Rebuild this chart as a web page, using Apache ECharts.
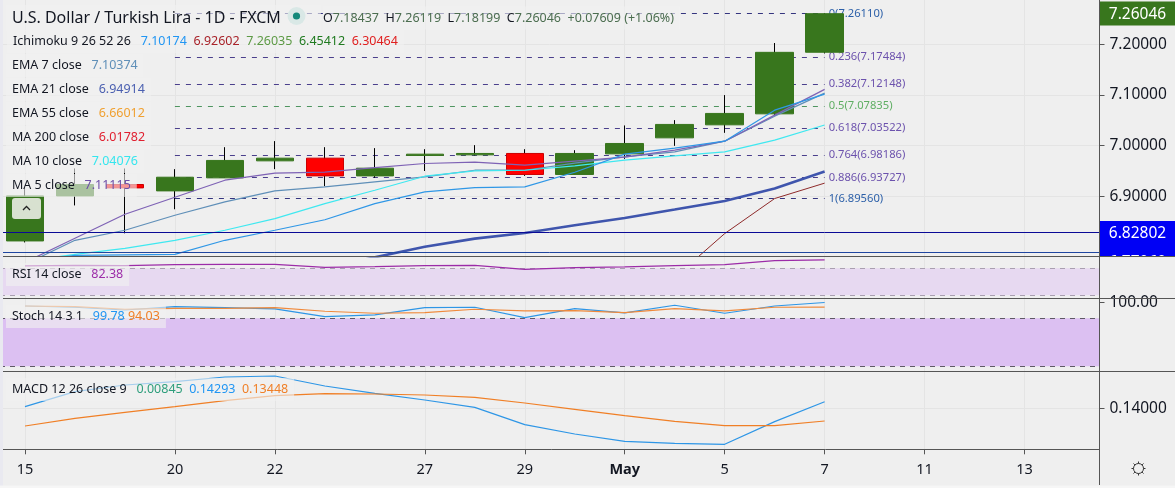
<!DOCTYPE html>
<html><head><meta charset="utf-8">
<style>html,body{margin:0;padding:0;background:#efefef}#c{width:1175px;height:488px}</style>
<script src="https://cdn.jsdelivr.net/npm/echarts@6/dist/echarts.min.js"></script>
</head><body><div id="c"></div>
<script>
const days=['15','16','17','20','21','22','23','24','27','28','29','30','May','4','5','6','7','8','11','12','13','14'];
const shownDays=['15','20','22','27','29','May','5','7','11','13'];
const open_=[6.8119,6.9008,6.9233,6.9107,6.9364,6.9700,6.9753,6.9403,6.9806,6.9818,6.9846,6.9431,6.9838,7.0154,7.0411,7.0628,7.18437];
const close_=[6.9008,6.9233,6.9166,6.9377,6.9708,6.9753,6.9403,6.9555,6.9832,6.9846,6.9431,6.9846,7.0043,7.0419,7.0636,7.1842,7.26046];
const low_=[6.8090,6.8820,6.8270,6.8745,6.9364,6.9536,6.9200,6.9364,6.9500,6.9806,6.9403,6.9431,6.9739,6.9996,7.0253,7.0603,7.18199];
const high_=[6.9186,6.9550,6.9550,6.9536,6.9970,7.0090,6.9970,6.9951,6.9930,7.0010,6.9930,6.9910,7.0399,7.0504,7.0998,7.2026,7.26119];
const ma5=[6.7697,6.8171,6.8646,6.8982,6.9318,6.9456,6.9476,6.9565,6.9648,6.9673,6.9614,6.9693,6.9772,6.9911,7.0088,7.0602,7.11115];
const ema7=[6.7658,6.8132,6.8330,6.8626,6.8889,6.9106,6.9185,6.9284,6.9383,6.9515,6.9515,6.9654,6.9778,6.9877,7.0088,7.0582,7.10374];
const ichiConv=[6.7697,6.7835,6.7845,6.7855,6.8132,6.8330,6.8537,6.8857,6.9086,6.9173,6.9185,6.9476,6.9832,6.9950,7.0088,7.0701,7.10174];
const ma10=[6.7717,6.7855,6.7974,6.8132,6.8330,6.8561,6.8857,6.9120,6.9397,6.9502,6.9515,6.9600,6.9713,6.9798,6.9877,7.0108,7.04076];
const ema21=[null,null,null,null,null,null,6.7579,6.7796,6.8003,6.8165,6.8276,6.8428,6.8573,6.8739,6.8909,6.9154,6.94914];
const ichiBase=[null,null,null,null,null,null,null,null,null,null,null,null,null,6.7400,6.8264,6.8956,6.92602];
const fibLevels=[['0',7.2611,'#2b5fa8','#35357f'],['0.236',7.17484,'#6c52ad','#4a3f8c'],['0.382',7.12148,'#6c52ad','#4a3f8c'],['0.5',7.07835,'#5fae63','#4f9560'],['0.618',7.03522,'#6c52ad','#4a3f8c'],['0.764',6.98186,'#6c52ad','#4a3f8c'],['0.886',6.93727,'#6c52ad','#4a3f8c'],['1',6.8956,'#2b5fa8','#35357f']];
const rsi=[73.5,74.4,74.0,75.4,75.7,75.9,71.5,72.5,74.0,74.4,68.5,71.0,72.0,74.0,75.4,81.4,82.38];
const stochK=[95.4,93.8,90.4,94.6,93.3,91.7,82.1,84.2,93.3,93.8,80.8,92.1,86.7,96.3,86.3,95.4,99.78];
const stochD=[95.4,94.6,91.3,92.5,92.5,93.3,88.8,86.3,87.1,91.3,89.2,89.6,87.1,92.1,89.2,93.8,94.03];
const macd=[.14076,.14733,.15025,.15171,.15375,.15419,.14981,.14660,.14368,.14047,.13288,.12879,.12558,.12470,.12427,.13419,.14293];
const signal=[.13229,.13565,.13828,.14076,.14339,.14558,.14645,.14630,.14587,.14485,.14236,.13959,.13682,.13434,.13244,.13244,.13448];
const priceTicks=[7.2,7.1,7.0,6.9];

const FONT='"Noto Sans"';
const BG='#efefef', SEP='#555555';
const AX=15.5, LG=12.5;
const isShown=(i,v)=>shownDays.includes(v);
const panes=[{top:0,h:256.3},{top:256.3,h:42},{top:298.3,h:72.7},{top:371,h:78.3}];
const grids=panes.map(p=>({left:-0.5,width:1100,top:p.top,height:p.h,containLabel:false,show:false}));
const xAxes=panes.map((p,i)=>({type:'category',gridIndex:i,data:days,z:i==0?0:5,boundaryGap:true,
  axisLine:{show:false},
  axisTick:{show:i==3,interval:isShown,alignWithLabel:true,length:5,lineStyle:{color:SEP}},
  splitLine:{show:true,interval:isShown,alignWithLabel:true,lineStyle:{color:'#e4e4e4',width:1}},
  axisLabel:{show:i==3,interval:isShown,margin:13,fontFamily:FONT,fontSize:14.5,color:'#131722',
    formatter:v=>v==='May'?'{b|May}':v,rich:{b:{fontWeight:'bold',fontFamily:FONT,fontSize:14.5,color:'#131722'}}}}));
function yA(i,min,max,vals,fmt,showLab,pad){return {type:'value',gridIndex:i,position:'right',min,max,scale:true,z:i==0?0:5,
  axisLine:{show:true,onZero:false,lineStyle:{color:SEP}},
  axisTick:{show:showLab,customValues:vals,length:5,lineStyle:{color:SEP}},
  splitLine:{show:showLab,lineStyle:{color:'#e4e4e4'}},
  axisLabel:{show:showLab,customValues:vals,margin:10,padding:pad,fontFamily:FONT,fontSize:AX,color:'#131722',formatter:v=>v.toFixed(fmt)}};}
const yAxes=[yA(0,6.7816,7.2875,priceTicks,5,true,[2,0,0,0]),yA(1,25.6,87.8,[],2,false,0),yA(2,14.1,105,[100],2,true,[4,0,0,0]),yA(3,.12209,.15637,[.14],5,true,[2,0,0,0])];
yAxes[2].splitLine.show=false;

const line=(name,data,color,width,xi,z,extra)=>Object.assign({type:'line',name,data,xAxisIndex:xi,yAxisIndex:xi,symbol:'none',silent:true,z:z||4,connectNulls:false,
  lineStyle:{color,width:width||1.2}},extra||{});
function band(top,bottom,fill,dash){return {silent:true,z:6,
  markArea:{silent:true,z:6,itemStyle:{color:fill},data:[[{yAxis:top},{yAxis:bottom}]]},
  markLine:{silent:true,z:7,symbol:'none',label:{show:false},lineStyle:{color:dash,type:[5,5],width:1},data:[{yAxis:top},{yAxis:bottom}]}};}
const fibData=fibLevels.map(f=>[{xAxis:'20',yAxis:f[1],lineStyle:{color:f[3],type:[5,6],width:1},
   label:{show:true,position:'end',distance:4,color:f[2],fontFamily:FONT,fontSize:11.2,formatter:f[0]+'('+f[1].toFixed(5)+')'}},{xAxis:'7',yAxis:f[1]}]);
const series=[
 {type:'line',name:'fib',data:[],xAxisIndex:0,yAxisIndex:0,z:1,silent:true,
  markLine:{silent:true,z:1,symbol:'none',data:fibData}},
 {type:'candlestick',name:'wick',xAxisIndex:0,yAxisIndex:0,z:2,silent:true,barWidth:1,
  data:open_.map((o,i)=>[o,close_[i],low_[i],high_[i]]),
  itemStyle:{color:'#000',color0:'#000',borderColor:'#000',borderColor0:'#000',borderWidth:1}},
 {type:'candlestick',name:'body',xAxisIndex:0,yAxisIndex:0,z:3,silent:true,barWidth:38,
  data:open_.map((o,i)=>[o,close_[i],Math.min(o,close_[i]),Math.max(o,close_[i])]),
  itemStyle:{color:'#38761d',color0:'#ff0000',borderColor:'#38761d',borderColor0:'#cc0000',borderWidth:1}},
 line('EMA 7',ema7,'#5f8fb8',1.2,0),
 line('MA 5',ma5,'#7e62b5',1.2,0),
 line('MA 10',ma10,'#3fe8f0',1.2,0),
 line('Ichimoku conv',ichiConv,'#2f97e6',1.2,0),
 line('Ichimoku base',ichiBase,'#8e2a2a',1,0),
 line('EMA 21',ema21,'#3f55ad',2.6,0,4.5,{markLine:{silent:true,z:5,symbol:'none',label:{show:false},data:[
   {yAxis:6.82802,lineStyle:{color:'#0a0a96',type:'solid',width:1}},
   {yAxis:6.7913,lineStyle:{color:'#1f46a0',type:'solid',width:1}}]}}),
 line('RSI',rsi,'#9c2ca8',1.2,1,8),
 Object.assign({type:'line',name:'rsiBand',data:[],xAxisIndex:1,yAxisIndex:1},band(70,30,'#e7d9f1','#a99fb0')),
 Object.assign({type:'line',name:'stochBand',data:[],xAxisIndex:2,yAxisIndex:2},band(80,20,'#dcc0f2','#5f5a66')),
 line('%K',stochK,'#2e96e6',1.2,2,8),
 line('%D',stochD,'#f08a3c',1.2,2,8),
 line('MACD',macd,'#2e96e6',1.2,3,8),
 line('Signal',signal,'#f07f26',1.2,3,8)
];

const BGL='rgba(240,240,240,0.62)';
function rich(x,y,parts,size,pad){
  const rs={},t=parts.map((p,i)=>{rs['p'+i]={fill:p[1],fontFamily:FONT,fontSize:size||LG,fontWeight:p[2]||'normal'};return '{p'+i+'|'+p[0]+'}';}).join('');
  return {type:'text',x,y:y+1,z:100,silent:true,style:{text:t,rich:rs,verticalAlign:'middle',align:'left',fontFamily:FONT,fontSize:size||LG,
    backgroundColor:BGL,padding:pad||[5,6,5,6]}};
}
const DK='#131722';
const dec=(v,n)=>v.toFixed(n);
const G=[];
const flag=(y,h,fill,txt,ty,z)=>[{type:'rect',z,silent:true,shape:{x:1099.5,y,width:76,height:h},style:{fill}},
  {type:'text',x:1137.5,y:ty+1,z:z+.1,silent:true,style:{text:txt,fill:'#fff',fontFamily:FONT,fontSize:AX,align:'center',verticalAlign:'middle'}}];
G.push(...flag(245,24,'#0000f5','6.77060',262,.3));
G.push(...flag(221,24,'#0000f5','6.82802',233,.5));
G.push(...flag(1.5,24,'#38761d','7.26046',13.7,.5));
G.push({type:'text',x:1038,y:261,z:.3,silent:true,style:{text:'0(6.79130)',fill:'#2b5fa8',fontFamily:FONT,fontSize:11.2,verticalAlign:'middle'}});
G.push({type:'rect',z:1,silent:true,shape:{x:0,y:256.5,width:1175,height:43},style:{fill:BG}});
[256.5,298.5,371.5].forEach(y=>G.push({type:'line',z:60,silent:true,shape:{x1:3,y1:y,x2:1175,y2:y},style:{stroke:SEP,lineWidth:1}}));
G.push({type:'line',z:60,silent:true,shape:{x1:3,y1:449.5,x2:1099.5,y2:449.5},style:{stroke:SEP,lineWidth:1}});
G.push({type:'line',z:60,silent:true,shape:{x1:1099.5,y1:0,x2:1099.5,y2:485},style:{stroke:SEP,lineWidth:1}});
G.push({type:'rect',z:60,silent:true,shape:{x:0,y:0,width:3,height:488},style:{fill:'#e9e9f0'}});
G.push({type:'rect',z:60,silent:true,shape:{x:0,y:485.5,width:1175,height:3},style:{fill:'#f6f6f6'}});
G.push(rich(6,17,[['U.S. Dollar / Turkish Lira - 1D - FXCM',DK]],16,[5,40,5,6]));
G.push(rich(323,17,[['O',DK],['7.18437  ','#4c6e50'],['H',DK],['7.26119  ','#4c6e50'],['L',DK],['7.18199  ','#4c6e50'],['C',DK],['7.26046  ','#4c6e50'],['+0.07609 (+1.06%)','#4c6e50']],LG,[5,6,5,0]));
G.push({type:'circle',z:101,silent:true,shape:{cx:296.5,cy:16,r:9},style:{fill:'#d9e8e6'}});
G.push({type:'circle',z:102,silent:true,shape:{cx:296.5,cy:16,r:3.6},style:{fill:'#14897a'}});
G.push(rich(7,40.5,[['Ichimoku 9 26 52 26   ',DK],[dec(7.10174,5)+'  ','#2196f3'],[dec(6.92602,5)+'  ','#a8232a'],[dec(7.26035,5)+'  ','#5d9a45'],[dec(6.45412,5)+'  ','#1f7a1f'],[dec(6.30464,5),'#e02020']]));
G.push(rich(6,64.5,[['EMA 7 close   ',DK],[dec(7.10374,5),'#5f8fb8']]));
G.push(rich(6,88.5,[['EMA 21 close   ',DK],[dec(6.94914,5),'#4a5fb0']]));
G.push(rich(6,112.5,[['EMA 55 close   ',DK],[dec(6.66012,5),'#f0a030']]));
G.push(rich(6,136.5,[['MA 200 close   ',DK],[dec(6.01782,5),'#e02030']]));
G.push(rich(6,160.5,[['MA 10 close   ',DK],[dec(7.04076,5),'#35e6ee']]));
G.push(rich(6,184.5,[['MA 5 close   ',DK],[dec(7.11115,5),'#6e4fa8']]));
G.push({type:'rect',z:101,silent:true,shape:{x:12,y:198,width:29,height:21,r:3},style:{fill:'rgba(245,245,240,0.85)'}});
G.push({type:'polyline',z:102,silent:true,shape:{points:[[23,210],[26.5,206.5],[30,210]]},style:{stroke:'#222',lineWidth:1.3,fill:'none'}});
G.push(rich(6,273.5,[['RSI 14 close   ',DK],['82.38','#9c2ca8']]));
G.push(rich(6,315.5,[['Stoch 14 3 1   ',DK],['99.78 ','#2196f3'],['94.03','#f07f26']]));
G.push(rich(6,388.5,[['MACD 12 26 close 9   ',DK],['0.00845  ','#2e9e7c'],['0.14293  ','#2196f3'],['0.13448','#f07f26']]));
G.push({type:'circle',z:60,silent:true,shape:{cx:1138.5,cy:468.5,r:5},style:{fill:'none',stroke:'#333',lineWidth:1}});
[[0,-7,0,-5],[0,5,0,7],[-7,0,-5,0],[5,0,7,0],[-5,-5,-3.6,-3.6],[5,5,3.6,3.6],[-5,5,-3.6,3.6],[5,-5,3.6,-3.6]].forEach(s=>G.push({type:'line',z:60,silent:true,shape:{x1:1138.5+s[0],y1:468.5+s[1],x2:1138.5+s[2],y2:468.5+s[3]},style:{stroke:'#333',lineWidth:1}}));

const chart=echarts.init(document.getElementById('c'),null,{renderer:'canvas'});
chart.setOption({animation:false,backgroundColor:BG,tooltip:{show:false},legend:{show:false},grid:grids,xAxis:xAxes,yAxis:yAxes,
  axisPointer:{show:false},series,graphic:{elements:G}});
</script></body></html>
